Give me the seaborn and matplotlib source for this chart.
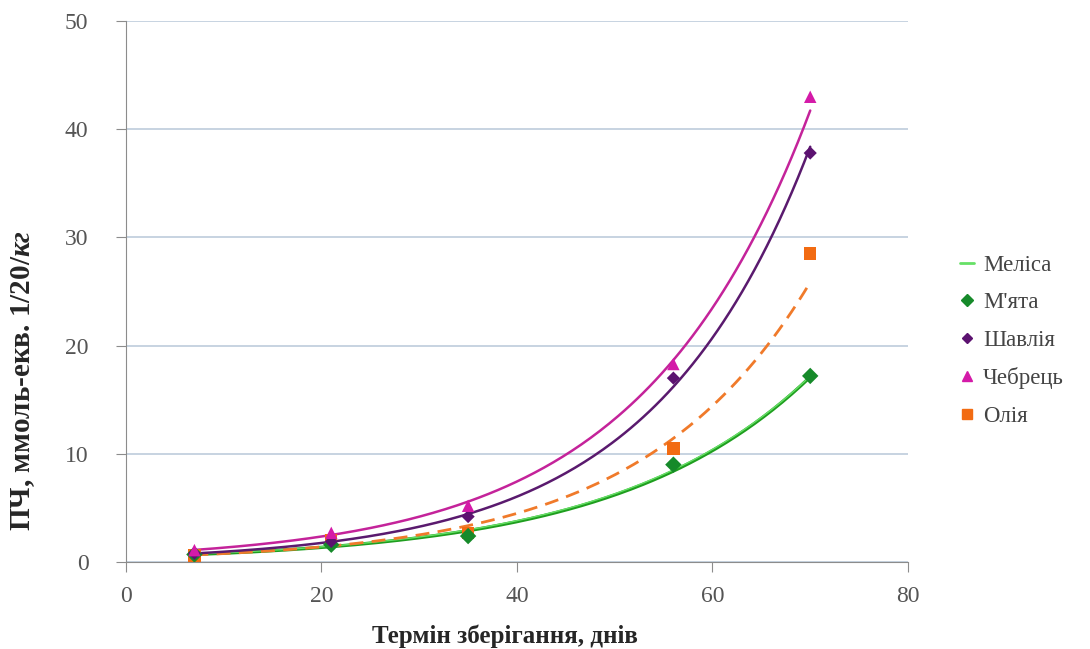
import numpy as np
import pandas as pd
import matplotlib
matplotlib.use("Agg")
import matplotlib.pyplot as plt
from matplotlib.lines import Line2D
import seaborn as sns

days = [7, 21, 35, 56, 70]
melisa = [0.7, 1.7, 2.6, 8.9, 17.1]
mjata = [0.7, 1.6, 2.4, 9.0, 17.2]
shavlia = [0.8, 1.9, 4.2, 17.0, 37.8]
chebrets = [1.1, 2.7, 5.2, 18.3, 43.0]
olia = [0.6, 2.0, 2.7, 10.5, 28.5]

sns.set_style("white")
plt.rcParams['font.family'] = ['Liberation Serif', 'DejaVu Serif']
plt.rcParams['mathtext.fontset'] = 'custom'
plt.rcParams['mathtext.it'] = 'Liberation Serif:italic:bold'
plt.rcParams['mathtext.rm'] = 'Liberation Serif:bold'

fig, ax = plt.subplots(figsize=(10.9, 6.49), dpi=100)
fig.subplots_adjust(left=0.1156, right=0.833, bottom=0.134, top=0.9676)


def exp_fit(y):
    k, b = np.polyfit(days, np.log(y), 1)
    xs = np.linspace(min(days), max(days), 200)
    return xs, np.exp(b + k * xs)


# trend curves
xs, ys = exp_fit(mjata)
sns.lineplot(x=xs, y=ys, ax=ax, color="#1f9e1f", lw=2.4)
xs, ys = exp_fit(melisa)
sns.lineplot(x=xs, y=ys, ax=ax, color="#66e066", lw=1.0)
xs, ys = exp_fit(olia)
sns.lineplot(x=xs, y=ys, ax=ax, color="#f07a2a", lw=2.0, linestyle=(0, (5, 3)))
xs, ys = exp_fit(shavlia)
sns.lineplot(x=xs, y=ys, ax=ax, color="#5a1a6e", lw=1.8)
xs, ys = exp_fit(chebrets)
sns.lineplot(x=xs, y=ys, ax=ax, color="#c4239a", lw=1.8)

# markers
df = pd.DataFrame({
    "day": days * 4,
    "val": mjata + shavlia + chebrets + olia,
    "name": ["М'ята"] * 5 + ["Шавлія"] * 5 + ["Чебрець"] * 5 + ["Олія"] * 5,
})
palette = {"М'ята": "#168a2a", "Шавлія": "#5c1270", "Чебрець": "#d41aa8", "Олія": "#f26b12"}
markers = {"М'ята": "D", "Шавлія": "D", "Чебрець": "^", "Олія": "s"}
sizes = {"М'ята": 70, "Шавлія": 45, "Чебрець": 80, "Олія": 80}
for name in ["Олія", "М'ята", "Шавлія", "Чебрець"]:
    sub = df[df["name"] == name]
    sns.scatterplot(data=sub, x="day", y="val", ax=ax, color=palette[name],
                    marker=markers[name], s=sizes[name], edgecolor="none", zorder=5)

ax.set_xlim(0, 80)
ax.set_ylim(0, 50)
ax.set_xticks([0, 20, 40, 60, 80])
ax.set_yticks([0, 10, 20, 30, 40, 50])
ax.yaxis.grid(True, color="#b8c7d9", lw=1.1)
ax.xaxis.grid(False)
for s in ["top", "right"]:
    ax.spines[s].set_visible(False)
for s in ["left", "bottom"]:
    ax.spines[s].set_color("#8c8c8c")
ax.tick_params(axis="both", which="major", length=7, color="#8c8c8c",
               labelsize=17, labelcolor="#555555", direction="out",
               left=True, bottom=True)
ax.tick_params(axis="x", pad=10)
ax.tick_params(axis="y", pad=20)

ax.set_xlabel("Термін зберігання, днів", fontsize=18, fontweight="bold")
ax.xaxis.set_label_coords(0.485, -0.116)
ax.set_ylabel("ПЧ, ммоль-екв. 1/20/$\\mathit{кг}$", fontsize=21, fontweight="bold")
ax.yaxis.set_label_coords(-0.114, 0.335)

handles = [
    Line2D([], [], color="#66e066", lw=2),
    Line2D([], [], color="#168a2a", marker="D", ls="none", ms=6),
    Line2D([], [], color="#5c1270", marker="D", ls="none", ms=5),
    Line2D([], [], color="#d41aa8", marker="^", ls="none", ms=7),
    Line2D([], [], color="#f26b12", marker="s", ls="none", ms=7),
]
labels = ["Меліса", "М'ята", "Шавлія", "Чебрець", "Олія"]
fig.legend(handles, labels, loc="center left", bbox_to_anchor=(0.862, 0.475),
           frameon=False, fontsize=16.5, handlelength=0.6, handletextpad=0.4,
           labelspacing=0.72, labelcolor="#444444")

fig.savefig("out.png", dpi=100)
